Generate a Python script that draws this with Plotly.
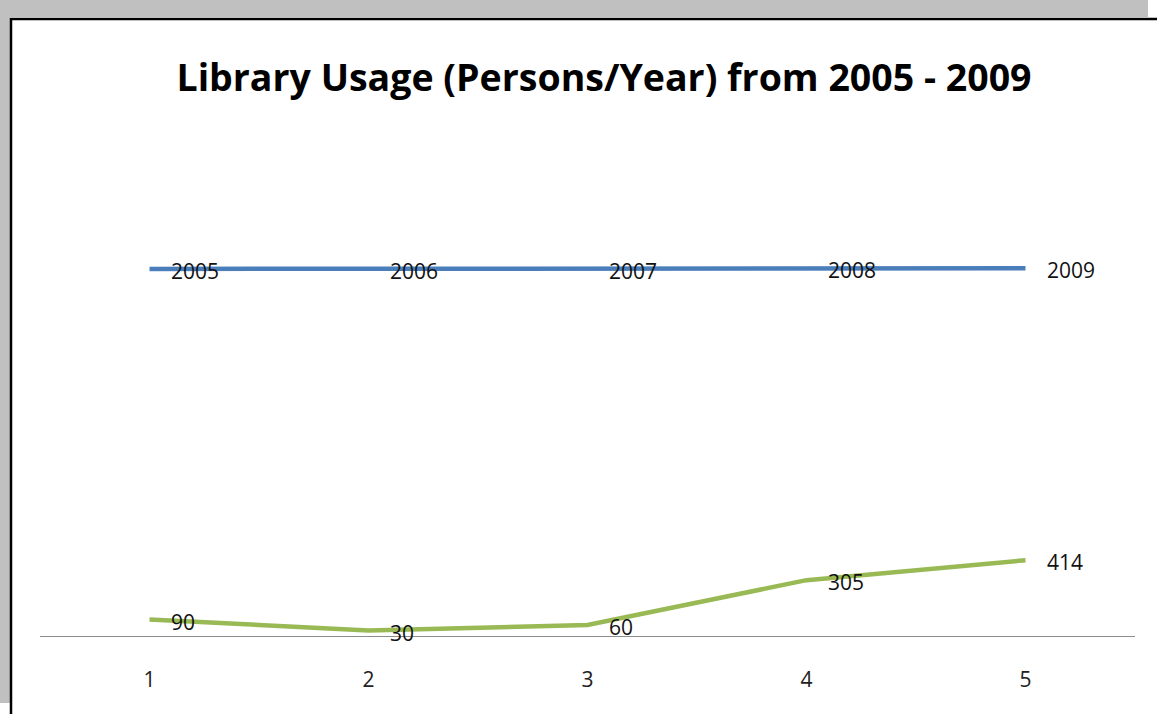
import plotly.graph_objects as go

categories = [1, 2, 3, 4, 5]
years = [2005, 2006, 2007, 2008, 2009]
usage = [90, 30, 60, 305, 414]

W, H = 1157, 714
L, R, T, B = 40, 22, 100, 78
pw, ph = W - L - R, H - T - B

def px(x):
    return (x - L) / pw

def py(y):
    return (H - B - y) / ph

FONT = "Open Sans"

fig = go.Figure()
fig.add_trace(go.Scatter(
    x=categories, y=years, mode="lines", line=dict(color="#4A7EBB", width=4.5),
    showlegend=False, hoverinfo="skip"))
fig.add_trace(go.Scatter(
    x=categories, y=usage, mode="lines", line=dict(color="#98B954", width=4.5),
    showlegend=False, hoverinfo="skip"))

annotations = []
for series in (years, usage):
    for c, v in zip(categories, series):
        annotations.append(dict(
            x=c, y=v, xref="x", yref="y", text=str(v), showarrow=False,
            xanchor="left", yanchor="middle", xshift=19, yshift=-2,
            font=dict(family=FONT, size=21, color="#111111")))

shapes = [
    dict(type="rect", xref="paper", yref="paper", x0=px(0), x1=px(1148), y0=py(0), y1=py(17),
         fillcolor="#C0C0C0", line=dict(width=0), layer="below"),
    dict(type="rect", xref="paper", yref="paper", x0=px(0), x1=px(10), y0=py(0), y1=py(703),
         fillcolor="#C0C0C0", line=dict(width=0), layer="below"),
    dict(type="line", xref="paper", yref="paper", x0=px(10), x1=px(1157), y0=py(19), y1=py(19),
         line=dict(color="#000000", width=2.5)),
    dict(type="line", xref="paper", yref="paper", x0=px(11), x1=px(11), y0=py(18), y1=py(714),
         line=dict(color="#000000", width=2.5)),
]

fig.update_layout(
    width=W, height=H,
    margin=dict(l=L, r=R, t=T, b=B),
    paper_bgcolor="white", plot_bgcolor="white",
    title=dict(text="<b>Library Usage (Persons/Year) from 2005 - 2009</b>",
               x=604 / W, xanchor="center", y=1 - 78 / H, yanchor="middle",
               yref="container", font=dict(family=FONT, size=37.5, color="#000000")),
    xaxis=dict(range=[0.5, 5.5], tickvals=categories, ticktext=[str(c) for c in categories],
               showgrid=False, zeroline=False, showline=False, ticks="",
               ticklabelstandoff=29,
               tickfont=dict(family=FONT, size=21, color="#222222")),
    yaxis=dict(range=[0, 2928], showticklabels=False, showgrid=False, zeroline=True,
               zerolinecolor="#8C8C8C", zerolinewidth=1, showline=False, ticks=""),
    shapes=shapes,
    annotations=annotations,
)

fig.write_html("out.html", config={"displayModeBar": False},
               post_script="document.body.style.margin='0';")
